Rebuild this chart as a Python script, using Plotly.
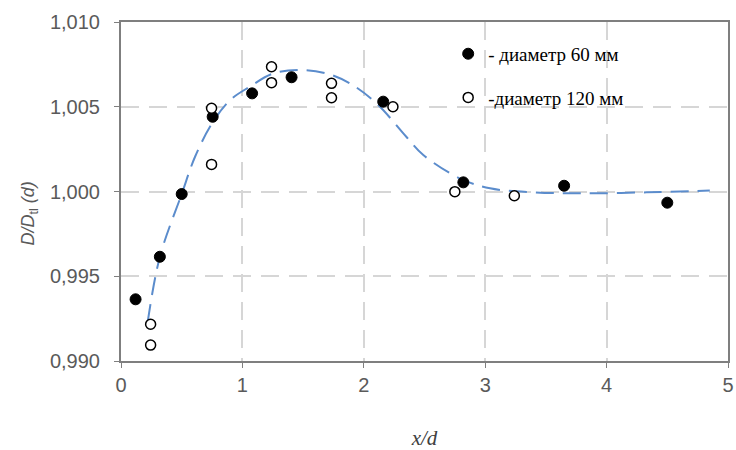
import plotly.graph_objects as go

# --- data ---
x_60 = [0.12, 0.32, 0.50, 0.755, 1.08, 1.405, 2.16, 2.82, 3.65, 4.50]
y_60 = [0.99364, 0.99615, 0.99985, 1.00441, 1.00579, 1.00674, 1.00530, 1.00054, 1.00034, 0.99934]

x_120 = [0.244, 0.244, 0.746, 0.746, 1.24, 1.24, 1.734, 1.734, 2.24, 2.75, 3.24]
y_120 = [0.99217, 0.99094, 1.00491, 1.00160, 1.00736, 1.00642, 1.00638, 1.00553, 1.00500, 0.99999, 0.99975]

x_fit = [0.22, 0.32, 0.50, 0.61, 0.75, 0.90, 1.06, 1.25, 1.47, 1.70, 1.885, 2.105, 2.35, 2.49, 2.79, 3.04, 3.40, 3.78, 4.33, 4.85]
y_fit = [0.9923, 0.99614, 0.99985, 1.00205, 1.00402, 1.0054, 1.00618, 1.00695, 1.00717, 1.00695, 1.00638, 1.0052, 1.00323, 1.00215, 1.00078, 1.00019, 0.99995, 0.99989, 0.99995, 1.00006]

name_60 = "- диаметр 60 мм"
name_120 = "-диаметр 120 мм"

x_ticks = [0, 1, 2, 3, 4, 5]
y_ticks = [0.990, 0.995, 1.000, 1.005, 1.010]

fig = go.Figure()
fig.add_trace(go.Scatter(
    x=x_fit, y=y_fit, mode="lines", line=dict(color="#5b8ccc", width=2, dash="18px,9px", shape="spline"),
    showlegend=False, hoverinfo="skip"))
fig.add_trace(go.Scatter(
    x=x_60, y=y_60, mode="markers", name=name_60, legendgroup="a",
    marker=dict(symbol="circle", size=11, color="black", line=dict(color="black", width=1))))
fig.add_trace(go.Scatter(
    x=x_120, y=y_120, mode="markers", name=name_120, legendgroup="b",
    marker=dict(symbol="circle", size=10, color="white", line=dict(color="black", width=1.5))))

axis_common = dict(
    showline=True, linecolor="#7f7f7f", linewidth=2, mirror=True,
    ticks="outside", ticklen=5, tickcolor="#7f7f7f", tickwidth=1,
    showgrid=True, gridcolor="#d6d6d6", gridwidth=1.5, griddash="18px,10px",
    zeroline=False, automargin=False,
    tickfont=dict(family="Liberation Sans, Arial", size=20, color="#5a5a5a"),
)

fig.update_xaxes(
    range=[0, 5], tickvals=x_ticks, ticktext=[str(v) for v in x_ticks],
    title=dict(text="<i>x/d</i>", font=dict(family="Liberation Serif, Times New Roman", size=21, color="#404040"), standoff=38),
    **axis_common)
fig.update_yaxes(
    range=[0.990, 1.010], tickvals=y_ticks, tickformat=".3f", ticklabelstandoff=10,
    **axis_common)

fig.add_annotation(
    text="<i>D/D</i><sub>tl</sub><i> (d)</i>", textangle=-90,
    xref="paper", yref="paper", x=-0.150, y=0.435, xanchor="center", yanchor="middle",
    showarrow=False, font=dict(family="Liberation Sans, Arial", size=18, color="#5a5a5a"))

fig.update_layout(
    width=736, height=450,
    margin=dict(l=121, r=8, t=22, b=89),
    paper_bgcolor="white", plot_bgcolor="white",
    separators=", ",
    legend=dict(
        x=0.539, y=0.962, xanchor="left", yanchor="top",
        bgcolor="rgba(0,0,0,0)", borderwidth=0,
        font=dict(family="Liberation Serif, Times New Roman", size=19, color="black"),
        tracegroupgap=16, traceorder="grouped", itemwidth=30,
    ),
)

fig.write_html("out.html")
